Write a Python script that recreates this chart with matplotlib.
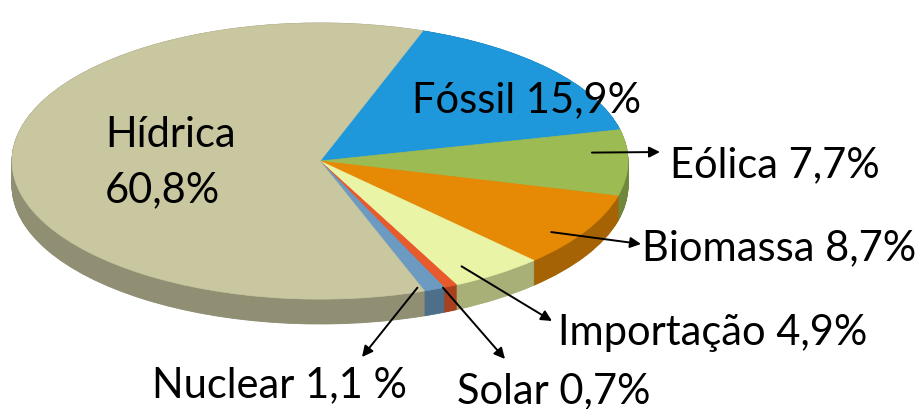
import numpy as np
import matplotlib
matplotlib.use("Agg")
import matplotlib.pyplot as plt
from matplotlib.colors import to_rgb

plt.rcParams['font.family'] = ['Lato', 'DejaVu Sans']

# ---- data ----
categories = ["Fóssil", "Eólica", "Biomassa", "Importação", "Solar", "Nuclear", "Hídrica"]
shares = [15.9, 7.7, 8.7, 4.9, 0.7, 1.1, 60.8]
label_texts = ["Fóssil 15,9%", "Eólica 7,7%", "Biomassa 8,7%", "Importação 4,9%",
               "Solar 0,7%", "Nuclear 1,1 %", "Hídrica\n60,8%"]
top_colors = ["#1F97DB", "#9DBB53", "#E68A05", "#E9F4A6", "#E85A2C", "#6C9AC0", "#C8C7A0"]

# ---- layout ----
W, H = 919, 410
fig = plt.figure(figsize=(W / 100, H / 100), dpi=100)
depth = 0.18          # thickness of the pie in data units
px_left, px_right = 12, 628
px_top, px_bot = 24, 325
ax = fig.add_axes([px_left / W, (H - px_bot) / H, (px_right - px_left) / W, (px_bot - px_top) / H])

start = 70.5
side_colors = [tuple(c * 0.72 for c in to_rgb(col)) for col in top_colors]

# side (depth) layers
for d in np.linspace(depth, 0.0, 40):
    wedges, _ = ax.pie(shares, colors=side_colors, startangle=start, counterclock=False,
                       center=(0, -d), radius=1, wedgeprops=dict(linewidth=0.6))
    for w, c in zip(wedges, side_colors):
        w.set_edgecolor(c)

# top face
top_wedges, _ = ax.pie(shares, colors=top_colors, startangle=start, counterclock=False,
                       center=(0, 0), radius=1, wedgeprops=dict(linewidth=0.5))
for w, c in zip(top_wedges, top_colors):
    w.set_edgecolor(c)

ax.set_aspect('auto')
ax.set_xlim(-1, 1)
ax.set_ylim(-1 - depth, 1)
ax.axis('off')

FS = 30
# labels without arrows (inside)
fig.text(105 / W, 1 - 147 / H, "Hídrica", fontsize=FS, ha='left', va='baseline')
fig.text(105 / W, 1 - 202 / H, "60,8%", fontsize=FS, ha='left', va='baseline')
fig.text(412 / W, 1 - 112 / H, label_texts[0], fontsize=FS, ha='left', va='baseline')

# labels with arrows: (label index, text x, baseline y, arrow frac along wedge, radius, head x, head y)
arrow_labels = [
    (1, 670, 177, 0.33, 0.885, 660, 153),
    (2, 642, 260, 0.63, 0.91, 641, 245),
    (3, 558, 345, 0.73, 0.89, 552, 322),
    (4, 457, 403, 1.10, 1.0, 505, 360),
    (5, 152, 397, 1.20, 0.97, 362, 358),
]
for idx, tx, ty, frac, r, hx, hy in arrow_labels:
    w = top_wedges[idx]
    t1, t2 = w.theta1, w.theta2
    # pie with counterclock=False: wedge goes from theta2 (start) down to theta1
    ang = np.deg2rad(t2 - frac * (t2 - t1))
    tail = (r * np.cos(ang), r * np.sin(ang))
    fig.text(tx / W, 1 - ty / H, label_texts[idx], fontsize=FS, ha='left', va='baseline')
    ax.annotate('', xy=(hx, H - hy), xycoords='figure pixels',
                xytext=tail, textcoords='data',
                arrowprops=dict(arrowstyle='-|>', color='black', lw=1.4,
                                mutation_scale=16, shrinkA=0, shrinkB=0),
                annotation_clip=False)

fig.savefig("out.png", dpi=100)
